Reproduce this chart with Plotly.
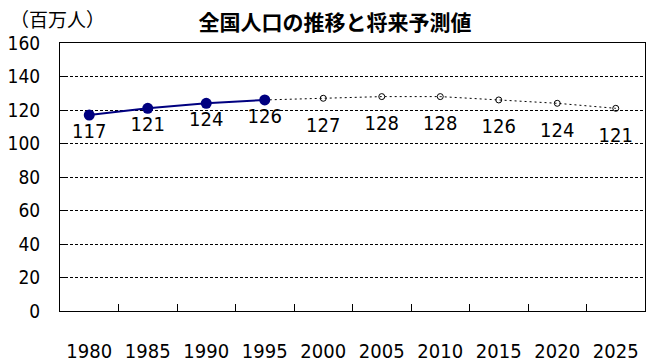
import plotly.graph_objects as go

years = ["1980", "1985", "1990", "1995", "2000", "2005", "2010", "2015", "2020", "2025"]
actual_years = ["1980", "1985", "1990", "1995"]
actual_values = [117, 121, 124, 126]
forecast_years = ["1995", "2000", "2005", "2010", "2015", "2020", "2025"]
forecast_values = [126, 127, 128, 128, 126, 124, 121]
y_ticks = [0, 20, 40, 60, 80, 100, 120, 140, 160]

num_font = "Liberation Sans Narrow, DejaVu Sans Condensed, Arial Narrow, sans-serif"
jp_font = "Noto Sans CJK JP, sans-serif"

# the page body has an 8px default margin; size the figure so the plot lands where the reference has it
W, H = 646, 355
fig = go.Figure()
fig.add_trace(go.Scatter(
    x=forecast_years, y=forecast_values,
    mode="lines+markers",
    line=dict(color="black", width=1, dash="2px,3px"),
    marker=dict(symbol="circle-open", size=6, color="black", line=dict(width=1)),
    showlegend=False,
))
# labels for the forecast points (placed a little further below the small markers)
fig.add_trace(go.Scatter(
    x=forecast_years[1:], y=forecast_values[1:],
    mode="markers+text",
    marker=dict(size=28, color="rgba(0,0,0,0)"),
    text=[str(v) for v in forecast_values[1:]],
    textposition="bottom center",
    textfont=dict(family=num_font, size=20, color="black"),
    cliponaxis=False, hoverinfo="skip",
    showlegend=False,
))
fig.add_trace(go.Scatter(
    x=actual_years, y=actual_values,
    mode="lines+markers+text",
    line=dict(color="#000080", width=2),
    marker=dict(symbol="circle", size=11, color="#000080"),
    text=[str(v) for v in actual_values],
    textposition="bottom center",
    textfont=dict(family=num_font, size=20, color="black"),
    cliponaxis=False,
    showlegend=False,
))

fig.update_layout(
    width=W, height=H,
    margin=dict(l=52, r=9, t=35, b=52, autoexpand=False),
    paper_bgcolor="white", plot_bgcolor="white",
    title=dict(text="<b>全国人口の推移と将来予測値</b>", x=(335 - 8) / W, xanchor="center",
               y=1 - 15 / H, yanchor="middle",
               font=dict(family=jp_font, size=21, color="black")),
    annotations=[dict(text="（百万人）", x=-52 / 585, y=1 + 24 / 268,
                      xref="paper", yref="paper",
                      xanchor="left", yanchor="middle", showarrow=False,
                      font=dict(family=jp_font, size=19, color="black"))],
)
fig.update_xaxes(
    type="category", categoryorder="array", categoryarray=years,
    range=[-0.5, len(years) - 0.5], autorange=False,
    tickvals=years, automargin=False,
    showline=True, linecolor="black", linewidth=1, mirror=True,
    ticks="inside", tickson="boundaries", ticklen=7, tickcolor="black",
    showgrid=False,
    tickfont=dict(family=num_font, size=20, color="black"),
    ticklabelstandoff=22,
)
fig.update_yaxes(
    range=[0, 160], tickvals=y_ticks, automargin=False,
    showline=True, linecolor="black", linewidth=1, mirror=True,
    ticks="inside", ticklen=7, tickcolor="black",
    showgrid=True, gridcolor="black", gridwidth=1, griddash="3px,2px",
    zeroline=False,
    tickfont=dict(family=num_font, size=19, color="black"),
    ticklabelstandoff=15,
)

fig.write_html("out.html")
